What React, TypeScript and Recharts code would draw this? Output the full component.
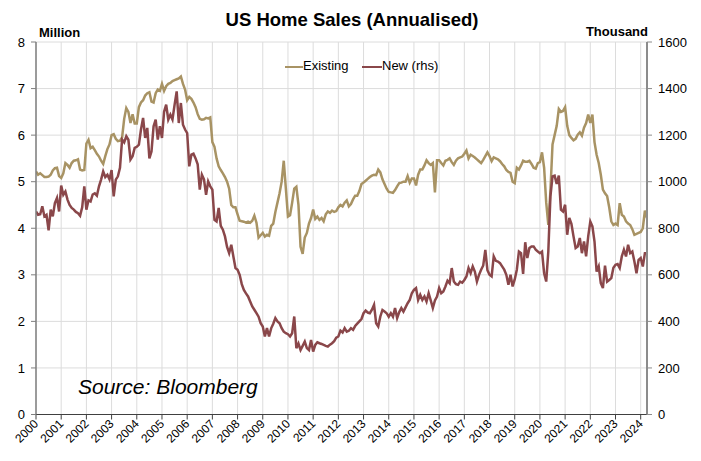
import React from 'react';
import { LineChart, Line, XAxis, YAxis, CartesianGrid, Legend } from 'recharts';

const FONT = '"Liberation Sans", Arial, Helvetica, sans-serif';

// Existing home sales, millions (annualised), monthly Jan 2000 - Apr 2024
const existingSales = [
  5.22, 5.15, 5.18, 5.14, 5.10, 5.10, 5.11, 5.15, 5.24, 5.29, 5.30, 5.12, // 2000
  5.08, 5.18, 5.40, 5.36, 5.30, 5.40, 5.45, 5.46, 5.48, 5.26, 5.24, 5.25, // 2001
  5.82, 5.90, 5.72, 5.75, 5.68, 5.60, 5.54, 5.45, 5.38, 5.55, 5.70, 5.80, // 2002
  6.00, 6.02, 5.92, 5.87, 5.88, 5.95, 6.35, 6.58, 6.50, 6.26, 6.45, 6.25, // 2003
  6.25, 6.60, 6.70, 6.75, 6.85, 6.90, 6.92, 6.72, 6.70, 6.90, 6.98, 6.95, // 2004
  7.10, 6.95, 7.05, 7.10, 7.12, 7.16, 7.18, 7.20, 7.22, 7.26, 7.10, 6.98, // 2005
  6.75, 6.82, 6.78, 6.70, 6.60, 6.45, 6.35, 6.33, 6.34, 6.37, 6.36, 6.38, // 2006
  5.85, 5.75, 5.50, 5.33, 5.25, 5.18, 5.10, 5.00, 4.85, 4.50, 4.45, 4.45, // 2007
  4.30, 4.16, 4.15, 4.14, 4.12, 4.14, 4.12, 4.16, 4.27, 4.12, 3.80, 3.85, // 2008
  3.90, 3.82, 3.86, 3.84, 4.05, 4.10, 4.35, 4.55, 4.75, 5.00, 5.45, 4.85, // 2009
  4.25, 4.28, 4.55, 4.85, 4.89, 4.50, 3.60, 3.45, 3.80, 3.90, 4.10, 4.22, // 2010
  4.40, 4.20, 4.25, 4.18, 4.22, 4.15, 4.30, 4.36, 4.33, 4.38, 4.35, 4.37, // 2011
  4.45, 4.50, 4.47, 4.55, 4.60, 4.47, 4.52, 4.62, 4.70, 4.70, 4.80, 4.95, // 2012
  4.98, 5.02, 5.06, 5.10, 5.13, 5.15, 5.14, 5.26, 5.20, 5.05, 4.95, 4.85, // 2013
  4.78, 4.77, 4.76, 4.82, 4.90, 4.97, 4.98, 5.00, 5.00, 5.12, 4.98, 5.07, // 2014
  5.07, 4.92, 5.15, 5.26, 5.26, 5.35, 5.46, 5.40, 5.36, 5.40, 4.77, 5.46, // 2015
  5.46, 5.40, 5.35, 5.45, 5.47, 5.50, 5.42, 5.36, 5.45, 5.50, 5.52, 5.54, // 2016
  5.60, 5.67, 5.50, 5.58, 5.55, 5.52, 5.48, 5.44, 5.40, 5.47, 5.55, 5.63, // 2017
  5.55, 5.44, 5.52, 5.50, 5.48, 5.44, 5.38, 5.33, 5.25, 5.21, 5.19, 5.00, // 2018
  4.97, 5.30, 5.26, 5.35, 5.45, 5.43, 5.43, 5.45, 5.38, 5.30, 5.28, 5.40, // 2019
  5.42, 5.63, 5.30, 4.55, 4.07, 4.80, 5.80, 6.00, 6.20, 6.56, 6.50, 6.52, // 2020
  6.60, 6.20, 6.00, 5.94, 5.89, 5.92, 6.01, 6.06, 5.99, 6.16, 6.26, 6.44, // 2021
  6.26, 6.44, 5.85, 5.58, 5.40, 5.15, 4.83, 4.75, 4.69, 4.45, 4.15, 4.07, // 2022
  4.10, 4.07, 4.54, 4.29, 4.25, 4.15, 4.10, 4.07, 3.98, 3.86, 3.88, 3.90, // 2023
  3.92, 4.00, 4.38, 4.22, // 2024
];

// New home sales, thousands (annualised), monthly Jan 2000 - Apr 2024
const newSales = [
  872, 858, 860, 894, 851, 858, 791, 880, 851, 908, 930, 872, // 2000
  983, 944, 958, 923, 900, 887, 880, 870, 865, 854, 890, 980, // 2001
  880, 920, 915, 945, 950, 940, 980, 1009, 1044, 1020, 1030, 1010, // 2002
  1050, 937, 1009, 1023, 1060, 1181, 1169, 1195, 1180, 1095, 1109, 1145, // 2003
  1150, 1159, 1224, 1274, 1188, 1231, 1100, 1130, 1238, 1267, 1181, 1238, // 2004
  1188, 1300, 1331, 1267, 1288, 1267, 1330, 1388, 1252, 1338, 1245, 1224, // 2005
  1209, 1066, 1116, 1120, 1100, 1075, 966, 1030, 1010, 944, 1001, 980, // 2006
  966, 836, 829, 887, 810, 794, 765, 720, 693, 729, 679, 629, // 2007
  622, 600, 560, 535, 520, 507, 485, 464, 450, 435, 420, 392, // 2008
  378, 335, 371, 335, 370, 390, 414, 400, 392, 371, 356, 349, // 2009
  345, 335, 349, 421, 285, 305, 277, 295, 313, 285, 277, 320, // 2010
  270, 299, 310, 306, 303, 299, 295, 292, 300, 306, 315, 330, // 2011
  335, 360, 352, 371, 356, 360, 371, 364, 380, 390, 400, 410, // 2012
  435, 446, 438, 435, 450, 471, 392, 378, 421, 449, 442, 435, // 2013
  420, 435, 420, 457, 414, 440, 457, 442, 460, 478, 492, 521, // 2014
  535, 543, 492, 514, 492, 507, 485, 521, 490, 457, 490, 507, // 2015
  543, 521, 528, 550, 575, 564, 629, 571, 560, 557, 571, 566, // 2016
  578, 593, 629, 607, 636, 614, 571, 600, 622, 640, 707, 620, // 2017
  600, 593, 679, 660, 657, 650, 636, 622, 600, 557, 600, 550, // 2018
  580, 622, 700, 693, 604, 740, 672, 715, 722, 722, 708, 700, // 2019
  693, 700, 607, 571, 700, 937, 1023, 1026, 990, 1026, 880, 872, // 2020
  901, 772, 844, 819, 765, 715, 722, 758, 693, 743, 679, 765, // 2021
  829, 808, 743, 614, 636, 564, 543, 639, 571, 578, 586, 630, // 2022
  643, 646, 629, 679, 708, 679, 729, 693, 700, 657, 607, 664, // 2023
  672, 636, 693, 693, // 2024
];

const startYear = 2000;
const yearTicks = [
  2000, 2001, 2002, 2003, 2004, 2005, 2006, 2007, 2008, 2009, 2010, 2011, 2012,
  2013, 2014, 2015, 2016, 2017, 2018, 2019, 2020, 2021, 2022, 2023, 2024,
];
const leftTicks = [0, 1, 2, 3, 4, 5, 6, 7, 8];
const rightTicks = [0, 200, 400, 600, 800, 1000, 1200, 1400, 1600];

const seriesLabels = { existing: 'Existing', newSales: 'New (rhs)' };
const titleText = 'US Home Sales (Annualised)';
const leftUnit = 'Million';
const rightUnit = 'Thousand';
const sourceText = 'Source: Bloomberg';

const EXISTING_COLOR = '#A89364';
const NEW_COLOR = '#8A474A';

const data = existingSales.map((v, i) => ({
  t: startYear + i / 12,
  existing: v,
  newSales: newSales[i],
}));

const XTick = (props: any) => {
  const { x, y, payload } = props;
  const ax = x + 3;
  const ay = y + 3;
  return (
    <text
      x={ax}
      y={ay}
      transform={`rotate(-45, ${ax}, ${ay})`}
      textAnchor="end"
      fontSize={12}
      fontFamily={FONT}
      fill="#000"
    >
      {payload.value}
    </text>
  );
};

const renderLegend = () => (
  <div style={{ position: 'relative', width: 0, height: 0 }}>
    <div style={{ position: 'absolute', left: 285, top: 66, width: 18, height: 2, background: EXISTING_COLOR }} />
    <div style={{ position: 'absolute', left: 303, top: 58, fontSize: 13, fontFamily: FONT, color: '#000', lineHeight: '16px', whiteSpace: 'nowrap' }}>
      {seriesLabels.existing}
    </div>
    <div style={{ position: 'absolute', left: 362, top: 66, width: 20, height: 2, background: NEW_COLOR }} />
    <div style={{ position: 'absolute', left: 382, top: 58, fontSize: 13, fontFamily: FONT, color: '#000', lineHeight: '16px', whiteSpace: 'nowrap' }}>
      {seriesLabels.newSales}
    </div>
  </div>
);

export default function App() {
  return (
    <div style={{ position: 'absolute', left: 0, top: 0, width: 701, height: 461, background: '#fff' }}>
      <LineChart
        width={701}
        height={461}
        data={data}
        margin={{ top: 42, right: 0, bottom: 0, left: 0 }}
      >
        <CartesianGrid yAxisId="left" stroke="#dcdcdc" strokeWidth={1} />
        <XAxis
          dataKey="t"
          type="number"
          domain={[2000, 2024.25]}
          ticks={yearTicks}
          interval={0}
          height={46.5}
          tickSize={5}
          tickLine={{ stroke: '#404040' }}
          axisLine={{ stroke: '#404040', strokeWidth: 1.2 }}
          tick={<XTick />}
          allowDataOverflow
        />
        <YAxis
          yAxisId="left"
          orientation="left"
          domain={[0, 8]}
          ticks={leftTicks}
          interval={0}
          width={36}
          tickSize={5}
          tickMargin={6}
          axisLine={{ stroke: '#7f7f7f', strokeWidth: 1.5 }}
          tickLine={{ stroke: '#7f7f7f' }}
          tick={{ fontSize: 13, fill: '#000', fontFamily: FONT }}
        />
        <YAxis
          yAxisId="right"
          orientation="right"
          domain={[0, 1600]}
          ticks={rightTicks}
          interval={0}
          width={54}
          tickSize={5}
          tickMargin={6}
          axisLine={{ stroke: '#8c8c8c', strokeWidth: 2 }}
          tickLine={{ stroke: '#8c8c8c' }}
          tick={{ fontSize: 13, fill: '#000', fontFamily: FONT }}
        />
        <Legend
          layout="horizontal"
          verticalAlign="middle"
          align="center"
          content={renderLegend}
          wrapperStyle={{ position: 'absolute', left: 0, top: 0, width: 0, height: 0 }}
        />
        <Line
          yAxisId="left"
          type="linear"
          dataKey="existing"
          name={seriesLabels.existing}
          stroke={EXISTING_COLOR}
          strokeWidth={2.5}
          dot={false}
          isAnimationActive={false}
        />
        <Line
          yAxisId="right"
          type="linear"
          dataKey="newSales"
          name={seriesLabels.newSales}
          stroke={NEW_COLOR}
          strokeWidth={2.5}
          dot={false}
          isAnimationActive={false}
        />
      </LineChart>
      <div style={{ position: 'absolute', left: 0, width: 704, top: 11, textAlign: 'center', fontFamily: FONT, fontWeight: 'bold', fontSize: 18.5, lineHeight: 1, color: '#000', whiteSpace: 'nowrap' }}>
        {titleText}
      </div>
      <div style={{ position: 'absolute', left: 39, top: 26, fontFamily: FONT, fontWeight: 'bold', fontSize: 13, lineHeight: 1, color: '#000' }}>
        {leftUnit}
      </div>
      <div style={{ position: 'absolute', right: 701 - 648, top: 24.5, fontFamily: FONT, fontWeight: 'bold', fontSize: 13, lineHeight: 1, color: '#000', whiteSpace: 'nowrap' }}>
        {rightUnit}
      </div>
      <div style={{ position: 'absolute', left: 78, top: 376, fontFamily: FONT, fontStyle: 'italic', fontSize: 21, lineHeight: 1, color: '#000', whiteSpace: 'nowrap' }}>
        {sourceText}
      </div>
    </div>
  );
}
